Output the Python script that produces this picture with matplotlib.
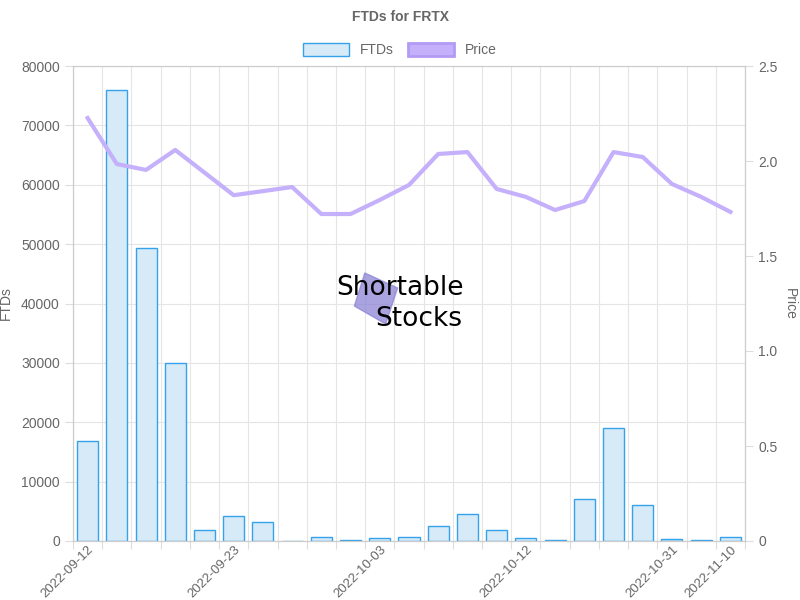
import numpy as np
import matplotlib.pyplot as plt
from matplotlib.patches import Patch

plt.rcParams["font.family"] = ["Liberation Sans", "DejaVu Sans"]

dates = ["2022-09-12", "2022-09-13", "2022-09-14", "2022-09-15", "2022-09-22", "2022-09-23",
         "2022-09-26", "2022-09-27", "2022-09-28", "2022-09-29", "2022-10-03", "2022-10-04",
         "2022-10-05", "2022-10-06", "2022-10-07", "2022-10-12", "2022-10-13", "2022-10-14",
         "2022-10-17", "2022-10-18", "2022-10-31", "2022-11-01", "2022-11-10"]
ftds = [16800, 76000, 49300, 30000, 1850, 4200, 3200, 0, 700, 250, 500, 650, 2600,
        4600, 1800, 450, 100, 7000, 19000, 6000, 300, 150, 600]
price = [2.226, 1.984, 1.953, 2.058, np.nan, 1.82, np.nan, 1.863, 1.721, 1.721, 1.795,
         1.874, 2.037, 2.047, 1.853, 1.811, 1.742, 1.789, 2.047, 2.021, 1.879, 1.811, 1.732]
shown = [0, 5, 10, 15, 20, 22]

fig = plt.figure(figsize=(8, 6), dpi=100)
ax = fig.add_axes([73 / 800, 59 / 600, 672 / 800, 475 / 600])
x = np.arange(len(dates))
ax.bar(x, ftds, width=0.72, color="#d6eaf8", edgecolor="#36a2eb", linewidth=1, label="FTDs", zorder=2)
ax.set_xlim(-0.5, len(dates) - 0.5)
ax.set_ylim(0, 80000)
ax.set_yticks(range(0, 80001, 10000))
ax.set_xticks(np.arange(-0.5, len(dates)), minor=False)
ax.set_xticklabels([])
ax.set_xticks(shown, minor=True)
ax.set_xticklabels([dates[i] for i in shown], minor=True, rotation=45, ha="right",
                   rotation_mode="anchor", color="#666666", fontsize=9.5)
ax.tick_params(axis="x", which="minor", length=0, pad=2)
ax.tick_params(axis="x", which="major", length=6, color="#dddddd")
ax.tick_params(axis="y", length=6, color="#dddddd", labelcolor="#666666", labelsize=10)
ax.grid(True, which="major", color="#e5e5e5", linewidth=0.8, zorder=0)
ax.set_ylabel("FTDs", color="#666666", fontsize=10, labelpad=6)
for s in ax.spines.values():
    s.set_color("#cccccc")

ax2 = ax.twinx()
p = np.array(price)
ok = ~np.isnan(p)
ax2.plot(x[ok], p[ok], color="#c5b0fb", linewidth=3, label="Price", zorder=3)
ax2.set_ylim(0, 2.5)
ax2.set_yticks(np.arange(0, 2.51, 0.5))
ax2.set_yticklabels(["0", "0.5", "1.0", "1.5", "2.0", "2.5"])
ax2.tick_params(axis="y", length=6, color="#dddddd", labelcolor="#666666", labelsize=10)
ax2.set_ylabel("Price", color="#666666", fontsize=10, rotation=270, labelpad=14)
for s in ax2.spines.values():
    s.set_color("#cccccc")

fig.text(0.5, 0.972, "FTDs for FRTX", ha="center", va="center", fontsize=10,
         fontweight="bold", color="#666666")
h1, l1 = ax.get_legend_handles_labels()
h2 = [Patch(facecolor="#c5b0fb", edgecolor="#b39bf5", linewidth=2)]
fig.legend(h1 + h2, l1 + ["Price"], loc="center", bbox_to_anchor=(0.5, 0.917), ncol=2, frameon=False,
           fontsize=10, labelcolor="#666666", handlelength=3.3, handleheight=1.1, columnspacing=1.0)

# watermark
fig.patches.append(plt.Polygon([(0.443, 0.49), (0.456, 0.545), (0.497, 0.52), (0.482, 0.46)],
                               closed=True, transform=fig.transFigure, color="#8c84d6", alpha=0.75))
fig.text(0.5, 0.52, "Shortable", ha="center", va="center", fontsize=19, color="black",
         family="DejaVu Sans")
fig.text(0.524, 0.468, "Stocks", ha="center", va="center", fontsize=19, color="black",
         family="DejaVu Sans")

fig.savefig("out.png", dpi=100)
